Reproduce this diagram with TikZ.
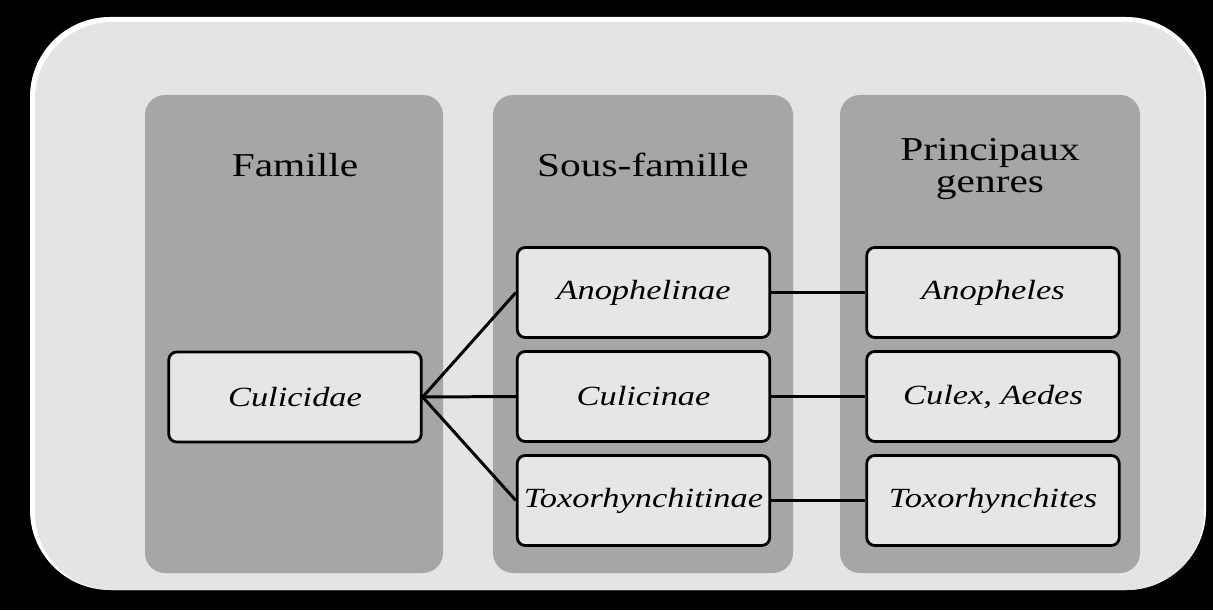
\documentclass[tikz,border=0pt]{standalone}
\usepackage{fontspec}
\setmainfont{Liberation Serif}
\usepackage{tikz}
\usetikzlibrary{calc}
\newcommand{\wide}[1]{\scalebox{1.24}[1]{#1}}

\begin{document}
\begin{tikzpicture}[auto, node distance=2.08cm]
\tikzset{%
  column/.style = {%
    fill = colgray,
    rounded corners = .4cm},
  taxon/.style = {%
    draw,
    line width = 1.6pt,
    fill = boxgray,
    rounded corners = .16cm,
    minimum width = 5.05cm,
    minimum height = 1.8cm,
    font = \fontsize{15.8}{18}\selectfont\itshape},
  heading/.style = {%
    align = center,
    font = \fontsize{19}{17.8}\selectfont},
  link/.style = {%
    line width = 1.7pt}
}
\definecolor{colgray}{HTML}{A6A6A6}
\definecolor{boxgray}{HTML}{E6E6E6}
\definecolor{framegray}{HTML}{E4E4E4}

  \fill[black] (0,0) rectangle (24.26,12.2);
  \useasboundingbox (0,0) rectangle (24.26,12.2);

  \fill[white, rounded corners=1.6cm] (0.6,0.4) rectangle (24.12,11.86);
  \fill[framegray, rounded corners=1.55cm] (0.7,0.4) rectangle (24.08,11.76);

  \fill[column] (2.9,0.74) rectangle (8.86,10.3);
  \fill[column] (9.86,0.74) rectangle (15.86,10.3);
  \fill[column] (16.8,0.74) rectangle (22.8,10.3);

  \node[heading] (famille) at (5.9,8.9) {\wide{Famille}};
  \node[heading] (sousfamille) at (12.86,8.9) {\wide{Sous-famille}};
  \node[heading] (genres) at (19.8,8.82) {\wide{Principaux}\\\wide{genres}};

  \node[taxon] (culicidae) at (5.9,4.26) {\wide{Culicidae}};

  \node[taxon] (anophelinae) at (12.87,6.35) {\wide{Anophelinae}};
  \node[taxon, below of=anophelinae] (culicinae) {\wide{Culicinae}};
  \node[taxon, below of=culicinae] (toxorhynchitinae) {\wide{Toxorhynchitinae}};

  \node[taxon] (anopheles) at (19.86,6.35) {\wide{Anopheles}};
  \node[taxon, below of=anopheles] (culex) {\wide{Culex, Aedes}};
  \node[taxon, below of=culex] (toxorhynchites) {\wide{Toxorhynchites}};

  \draw[link] (culicidae.east) -- (anophelinae.west);
  \draw[link] (culicidae.east) -- (culicinae.west);
  \draw[link] (culicidae.east) -- (toxorhynchitinae.west);

  \draw[link] (anophelinae) -- (anopheles);
  \draw[link] (culicinae) -- (culex);
  \draw[link] (toxorhynchitinae) -- (toxorhynchites);
\end{tikzpicture}
\end{document}
